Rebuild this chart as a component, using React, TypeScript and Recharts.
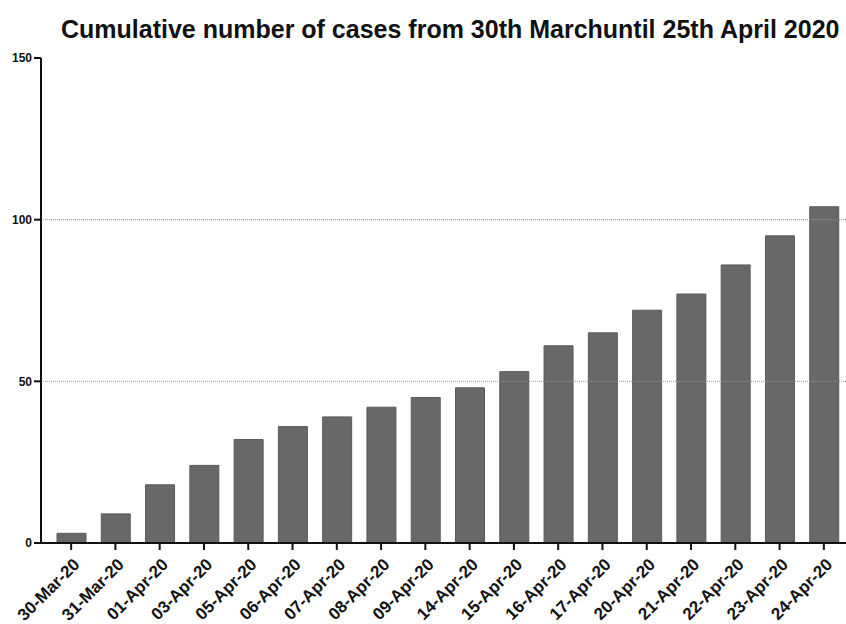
import { BarChart, Bar, XAxis, YAxis, ReferenceLine } from 'recharts'

const dates = [
  '30-Mar-20', '31-Mar-20', '01-Apr-20', '03-Apr-20', '05-Apr-20', '06-Apr-20',
  '07-Apr-20', '08-Apr-20', '09-Apr-20', '14-Apr-20', '15-Apr-20', '16-Apr-20',
  '17-Apr-20', '20-Apr-20', '21-Apr-20', '22-Apr-20', '23-Apr-20', '24-Apr-20',
]
const cases = [3, 9, 18, 24, 32, 36, 39, 42, 45, 48, 53, 61, 65, 72, 77, 86, 95, 104]
const yTicks = [0, 50, 100, 150]
const gridLevels = [50, 100]

const data = dates.map((d, i) => ({ date: d, cases: cases[i] }))

const font = 'Liberation Sans, Arial, sans-serif'

function DateTick({ x, y, payload }: any) {
  return (
    <g transform={`translate(${x + 6},${y + 10})`}>
      <text
        transform="rotate(-45)"
        textAnchor="end"
        dy={5}
        fontFamily={font}
        fontWeight="bold"
        fontSize={17}
        fill="#111"
      >
        {payload.value}
      </text>
    </g>
  )
}

export default function App() {
  return (
    <div style={{ position: 'absolute', left: 0, top: 0, width: 846, height: 624, background: '#fff' }}>
      <div
        style={{
          position: 'absolute', left: 61, width: 776, top: 17, textAlign: 'center', lineHeight: 1,
          fontFamily: font, fontWeight: 'bold', fontSize: 25, color: '#111', whiteSpace: 'nowrap',
        }}
      >
        Cumulative number of cases from 30th Marchuntil 25th April 2020
      </div>
      <BarChart
        width={846}
        height={624}
        data={data}
        margin={{ top: 58, right: 0, bottom: 0, left: 0 }}
      >
        {gridLevels.map((v) => (
          <ReferenceLine key={v} y={v} stroke="#999" strokeDasharray="1 1" strokeWidth={1} />
        ))}
        <XAxis
          dataKey="date"
          interval={0}
          padding={{ left: 8, right: 0 }}
          axisLine={{ stroke: '#111', strokeWidth: 2 }}
          tickLine={{ stroke: '#111', strokeWidth: 2 }}
          tickSize={7}
          tick={<DateTick />}
          height={81}
        />
        <YAxis
          domain={[0, 150]}
          ticks={yTicks}
          width={41}
          axisLine={{ stroke: '#111', strokeWidth: 2 }}
          tickLine={{ stroke: '#111', strokeWidth: 2 }}
          tickSize={7}
          tickMargin={2}
          tick={{ fontFamily: font, fontWeight: 'bold', fontSize: 12, fill: '#111' }}
        />
        <Bar dataKey="cases" fill="#686868" stroke="#5a5a5a" strokeWidth={1} barSize={29} isAnimationActive={false} />
      </BarChart>
    </div>
  )
}
